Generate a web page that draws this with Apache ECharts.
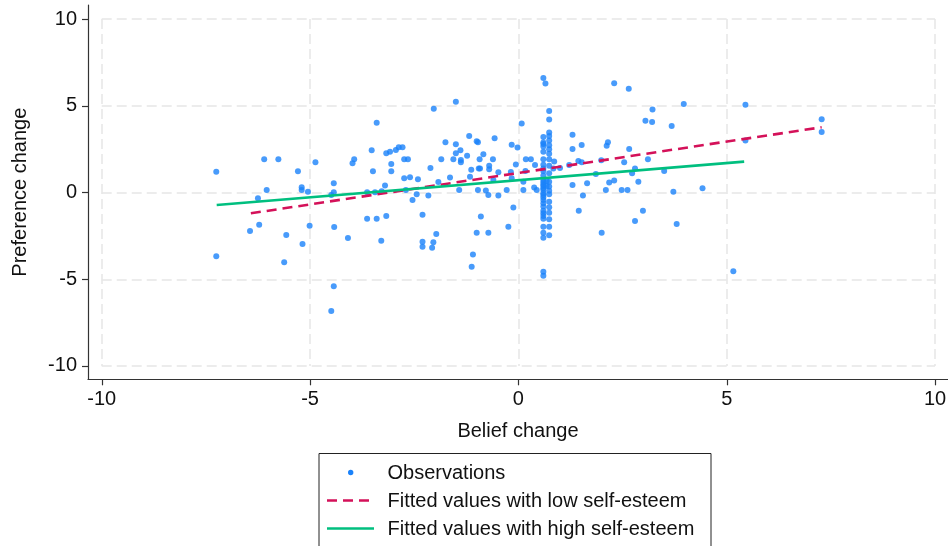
<!DOCTYPE html>
<html><head><meta charset="utf-8">
<script src="https://cdn.jsdelivr.net/npm/echarts@6/dist/echarts.min.js"></script>
<style>html,body{margin:0;padding:0;background:#fff}#c{width:948px;height:546px}</style>
</head><body><div id="c"></div>
<script>
// Observations: belief change (x) and preference change (y)
const beliefChange = [
-7.25,-7.25,-6.44,-6.25,-6.22,-6.10,-6.04,-5.76,-5.62,-5.57,-5.29,
-5.20,-5.20,-5.18,-5.05,-5.01,-4.87,-4.49,-4.49,-4.43,-4.43,-4.43,-4.42,-4.09,-3.98,-3.94,
-3.63,-3.63,-3.52,-3.49,-3.44,-3.40,-3.40,-3.29,-3.28,-3.20,-3.17,-3.17,-3.08,-3.05,-3.05,-2.94,-2.87,-2.78,-2.74,-2.65,-2.74,-2.60,-2.70,-2.54,-2.44,-2.41,
-2.30,-2.30,-2.30,-2.16,-2.11,-2.07,-2.04,-2.03,-1.97,-1.92,-1.85,-1.75,-1.64,-1.56,-1.50,-1.50,-1.50,-1.42,-1.39,-1.38,-1.38,
-1.23,-1.18,-1.16,-1.13,-1.12,-1.09,-1.00,-0.97,-1.00,-0.97,-0.95,-0.92,-0.93,-0.90,-0.84,-0.78,-0.72,-0.72,-0.70,-0.70,-0.61,-0.60,-0.57,-0.48,-0.48,-0.28,-0.24,-0.18,-0.16,-0.16,-0.12,-0.06,-0.02,
0.08,0.12,0.12,0.17,0.18,0.30,0.40,0.38,0.44,
0.60,0.65,0.60,0.60,0.60,0.60,0.60,0.60,0.60,0.60,0.60,0.60,0.60,0.60,0.60,0.60,0.60,0.60,0.60,0.60,0.60,0.60,0.60,0.60,0.60,0.60,0.60,0.60,0.60,0.60,0.60,0.60,0.60,
0.74,0.74,0.74,0.74,0.74,0.74,0.74,0.74,0.74,0.74,0.74,0.74,0.74,0.74,0.74,0.74,0.74,0.74,0.74,0.74,0.74,
0.68,0.68,0.86,0.84,
1.00,1.22,1.30,1.30,1.30,1.44,1.52,1.52,1.45,1.55,1.65,1.86,1.99,2.00,2.10,2.12,2.15,2.18,2.30,2.30,
2.48,2.54,2.62,2.65,2.66,2.73,2.80,2.80,2.88,2.99,3.05,3.11,3.21,3.22,3.50,3.68,3.72,3.80,3.97,4.42,5.16,5.45,5.45,7.28,7.28
];
const preferenceChange = [
1.20,-3.68,-2.22,-0.33,-1.86,1.91,0.14,1.91,-4.02,-2.45,1.22,
0.30,0.14,-2.97,0.05,-1.91,1.74,-0.14,-6.83,0.53,0.01,-5.41,-1.99,-2.62,1.68,1.91,
0.01,-1.51,2.43,1.22,0.01,4.02,-1.51,-2.78,0.07,0.40,-1.35,2.26,2.35,1.64,1.22,2.45,2.61,2.61,1.91,1.91,0.82,0.88,0.14,-0.43,-0.10,0.76,
-1.28,-2.84,-3.12,-0.18,1.41,-3.18,-2.87,4.83,-2.39,0.61,1.91,2.89,0.86,1.91,5.23,2.78,2.26,0.14,2.43,1.87,1.74,
2.12,3.26,0.91,1.31,-4.28,-3.57,2.95,2.89,-2.32,0.14,1.39,1.39,1.91,-1.39,2.21,0.12,-0.14,-2.32,1.54,1.34,1.91,0.72,3.12,-0.18,1.16,0.14,-1.97,1.18,0.82,2.75,-0.86,1.61,2.59,
3.98,0.62,0.14,1.24,1.91,1.91,1.59,0.29,0.14,
6.60,6.28,3.20,2.88,2.80,2.65,2.35,1.92,1.60,1.39,1.24,0.98,0.72,0.59,0.46,0.37,0.24,0.14,-0.05,-0.14,-0.28,-0.43,-0.62,-0.80,-1.05,-1.20,-1.35,-1.51,-1.97,-2.32,-2.61,-4.57,-4.80,
4.70,4.21,3.46,3.26,2.99,2.72,2.49,2.24,1.91,1.54,1.11,0.62,0.35,0.10,-0.10,-0.53,-0.85,-1.16,-1.54,-1.97,-2.47,
0.66,0.37,1.78,1.39,
1.41,1.59,3.33,2.51,0.43,1.82,1.74,2.74,-1.05,-0.18,0.53,1.07,1.86,-2.32,0.14,2.70,2.89,0.58,0.69,6.29,
0.14,1.74,0.14,5.98,2.51,1.11,1.39,-1.64,0.62,-1.05,4.13,1.91,4.06,4.78,1.24,3.83,0.05,-1.82,5.10,0.24,-4.54,5.06,2.99,4.22,3.49
];
// Fitted lines (endpoints)
const lowFitX = [-6.42, 7.28];
const lowFitY = [-1.20, 3.76];
const highFitX = [-7.24, 5.42];
const highFitY = [-0.72, 1.78];
// Tick values
const xTicks = [-10, -5, 0, 5, 10];
const yTicks = [-10, -5, 0, 5, 10];
const legendLabels = ['Observations', 'Fitted values with low self-esteem', 'Fitted values with high self-esteem'];
const axisTitles = {x: 'Belief change', y: 'Preference change'};

const FONT = '"Liberation Sans", Arial, Helvetica, sans-serif';
const FS = 20;
const C_OBS = '#1a82fa', C_LOW = '#d41159', C_HIGH = '#00bf7f';

const zip = (a, b) => a.map((v, i) => [v, b[i]]);

const chart = echarts.init(document.getElementById('c'), null, {renderer: 'canvas'});
chart.setOption({
  animation: false,
  backgroundColor: '#fff',
  textStyle: {fontFamily: FONT},
  grid: [
    {left: 88, right: 0, top: 5, bottom: 166.7, outerBoundsMode: 'none', containLabel: false},
    {left: 101.7, right: 13, top: 19, bottom: 180, outerBoundsMode: 'none', containLabel: false}
  ],
  xAxis: [
    {gridIndex: 0, type: 'value', min: -10.33, max: 10.31,
     axisLine: {show: true, onZero: false, lineStyle: {color: '#333', width: 1.2}},
     axisTick: {show: true, customValues: xTicks, length: 6, lineStyle: {color: '#333', width: 1.2}},
     axisLabel: {show: true, customValues: xTicks, margin: 10, color: '#111', fontSize: FS, fontFamily: FONT},
     splitLine: {show: false},
     name: axisTitles.x, nameLocation: 'middle', nameGap: 42,
     nameTextStyle: {color: '#111', fontSize: FS, fontFamily: FONT}},
    {gridIndex: 1, type: 'value', min: -10, max: 10, interval: 5,
     axisLine: {show: false}, axisTick: {show: false}, axisLabel: {show: false},
     splitLine: {show: true, lineStyle: {color: '#e6e6e6', width: 1.5, type: [10, 5]}}}
  ],
  yAxis: [
    {gridIndex: 0, type: 'value', min: -10.77, max: 10.81,
     axisLine: {show: true, onZero: false, lineStyle: {color: '#333', width: 1.2}},
     axisTick: {show: true, customValues: yTicks, length: 6, lineStyle: {color: '#333', width: 1.2}},
     axisLabel: {show: true, customValues: yTicks, margin: 11, color: '#111', fontSize: FS, fontFamily: FONT},
     splitLine: {show: false},
     name: axisTitles.y, nameLocation: 'middle', nameGap: 58,
     nameTextStyle: {color: '#111', fontSize: FS, fontFamily: FONT}},
    {gridIndex: 1, type: 'value', min: -10, max: 10, interval: 5,
     axisLine: {show: false}, axisTick: {show: false}, axisLabel: {show: false},
     splitLine: {show: true, lineStyle: {color: '#e6e6e6', width: 1.5, type: [10, 5]}}}
  ],
  series: [
    {name: legendLabels[0], type: 'scatter', xAxisIndex: 1, yAxisIndex: 1,
     data: zip(beliefChange, preferenceChange), symbol: 'circle', symbolSize: 6,
     itemStyle: {color: C_OBS}, z: 3, silent: true},
    {name: legendLabels[1], type: 'line', xAxisIndex: 1, yAxisIndex: 1,
     data: zip(lowFitX, lowFitY), symbol: 'none', showSymbol: false,
     lineStyle: {color: C_LOW, width: 2.6, type: [10, 6]}, z: 4, silent: true},
    {name: legendLabels[2], type: 'line', xAxisIndex: 1, yAxisIndex: 1,
     data: zip(highFitX, highFitY), symbol: 'none', showSymbol: false,
     lineStyle: {color: C_HIGH, width: 2.6}, z: 4, silent: true}
  ],
  graphic: [
    {type: 'rect', shape: {x: 319, y: 453.5, width: 392, height: 120},
     style: {fill: '#fff', stroke: '#222', lineWidth: 1}, z: 10},
    {type: 'circle', shape: {cx: 350.7, cy: 472.5, r: 2.7}, style: {fill: C_OBS}, z: 11},
    {type: 'line', shape: {x1: 327, y1: 500.5, x2: 374, y2: 500.5},
     style: {stroke: C_LOW, lineWidth: 2.6, lineDash: [10, 6]}, z: 11},
    {type: 'line', shape: {x1: 327, y1: 528.5, x2: 374, y2: 528.5},
     style: {stroke: C_HIGH, lineWidth: 2.6}, z: 11},
    {type: 'text', x: 387.5, y: 473, style: {text: legendLabels[0], font: FS + 'px ' + FONT, fill: '#111', verticalAlign: 'middle'}, z: 11},
    {type: 'text', x: 387.5, y: 501, style: {text: legendLabels[1], font: FS + 'px ' + FONT, fill: '#111', verticalAlign: 'middle'}, z: 11},
    {type: 'text', x: 387.5, y: 529, style: {text: legendLabels[2], font: FS + 'px ' + FONT, fill: '#111', verticalAlign: 'middle'}, z: 11}
  ]
});
</script></body></html>
